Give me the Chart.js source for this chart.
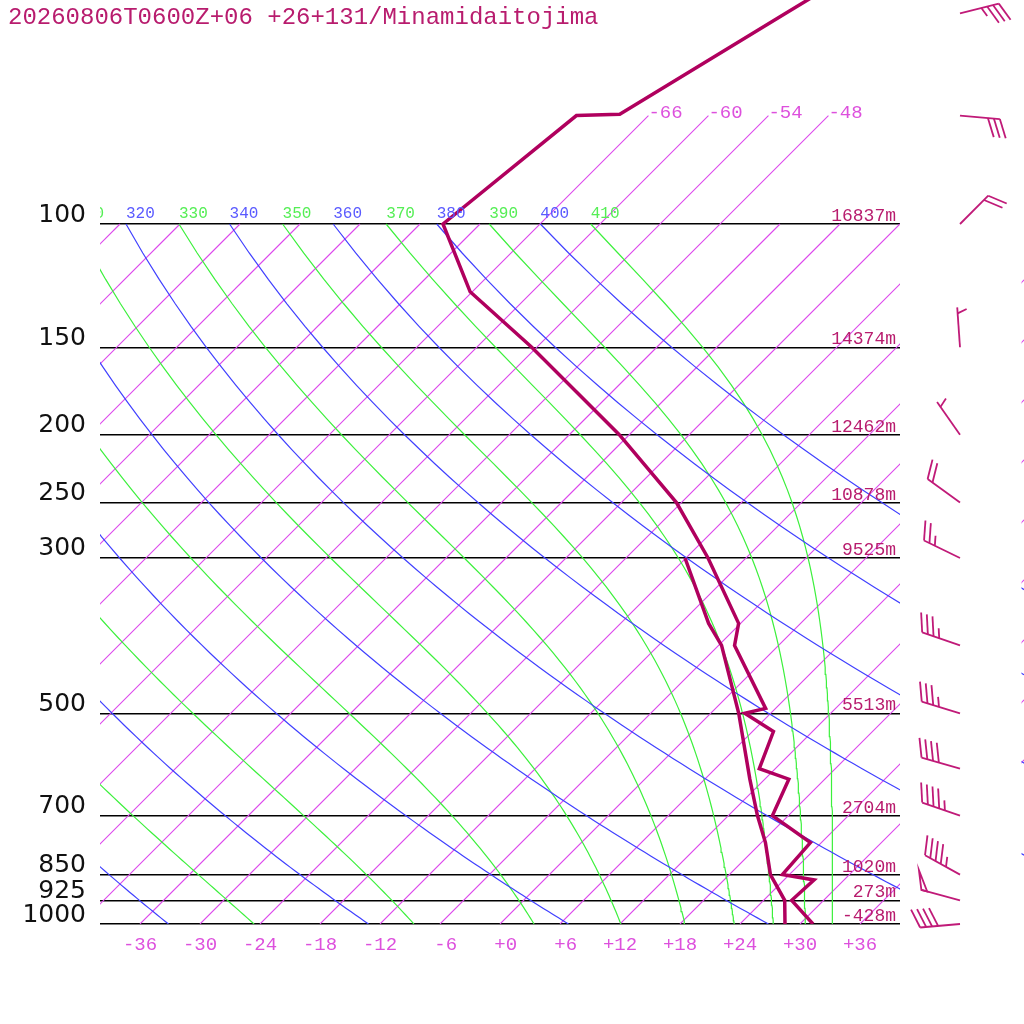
<!DOCTYPE html>
<html>
<head>
<meta charset="utf-8">
<title>Skew-T Minamidaitojima</title>
<script src="https://cdn.jsdelivr.net/npm/chart.js@4.4.1/dist/chart.umd.min.js"></script>
<style>
  html, body { margin: 0; padding: 0; background: #fff; }
  #wrap { position: relative; width: 1024px; height: 1024px; }
</style>
</head>
<body>
<div id="wrap"><canvas id="skewT" width="1024" height="1024"></canvas></div>
<script>
// Sounding: 20260806T0600Z+06, +26+131 Minamidaitojima
const TITLE = '20260806T0600Z+06 +26+131/Minamidaitojima';

// isobars drawn across the diagram, with the height of each one
const PRESSURE_LEVELS = [100, 150, 200, 250, 300, 500, 700, 850, 925, 1000];
const LEVEL_HEIGHTS = ['16837m', '14374m', '12462m', '10878m', '9525m', '5513m', '2704m', '1020m', '273m', '-428m'];

// temperature tick labels along the bottom (degC at 1000 hPa)
const TEMP_TICKS = [-36, -30, -24, -18, -12, -6, 0, 6, 12, 18, 24, 30, 36];

// temperature profile (hPa, degC)
const TEMP_P = [1000, 925, 865, 850, 765, 700, 621, 600, 531, 500, 492, 400, 372, 300, 250, 200, 150, 125, 100, 70, 69.7, 50, 40];
const TEMP_C = [31.3, 26.8, 27.0, 23.3, 22.9, 16.4, 14.4, 10.4, 8.1, 3.4, 5.0, -4.4, -6.2, -15.8, -24.5, -37.0, -54.5, -66.2, -75.7, -73.2, -69.0, -62.5, -58.1];

// dew point profile (hPa, degC)
const DEW_P = [1000, 925, 850, 765, 700, 621, 500, 400, 372, 300];
const DEW_C = [28.5, 26.1, 22.1, 18.4, 14.9, 10.5, 2.8, -5.7, -9.2, -18.1];

// winds (hPa, direction deg, speed kt)
const WIND_P = [50, 70, 100, 150, 200, 250, 300, 400, 500, 600, 700, 850, 925, 1000];
const WIND_DIR = [76, 95, 45, 356, 325, 306, 296, 289, 287, 286, 289, 299, 285, 265];
const WIND_KT = [35, 30, 20, 5, 5, 20, 25, 35, 35, 40, 45, 45, 50, 40];

// background lines
const ISOTHERMS = [-108, -102, -96, -90, -84, -78, -72, -66, -60, -54, -48, -42, -36, -30, -24, -18, -12, -6, 0, 6, 12, 18, 24, 30, 36];
const ISOTHERMS_HIGH = [-66, -60, -54, -48];   // these run on up to 70 hPa and carry a label
const DRY_THETA = [240, 260, 280, 300, 320, 340, 360, 380, 400];
const MOIST_THETAE = [250, 270, 290, 310, 330, 350, 370, 390, 410];

// 45 degree skew: 10 px per degC and 700 px per decade of pressure
const SKEW = 70 / Math.LN10;
const P_TOP = 1000 * Math.exp(-Math.LN10 * 924 / 700);

const COLORS = {
    sounding: '#b0005e',
    text: '#b81c6e',
    barb: '#c01a78',
    isotherm: '#dc48ec',
    isoLabel: '#dd50dd',
    dry: '#4040ff',
    dryLabel: '#5a5aff',
    moist: '#3cf03c',
    moistLabel: '#55ee55'
};

function skewX(t, p) {
    return t + SKEW * Math.log(1000 / p);
}

function esat(tc) {
    return 6.112 * Math.exp(17.67 * tc / (tc + 243.5));
}

// Bolton equivalent potential temperature of saturated air
function thetaESat(tc, p) {
    const tk = tc + 273.15;
    const e = esat(tc);
    const r = 0.622 * e / (p - e);
    const th = tk * Math.pow(1000 / p, 0.2854 * (1 - 0.28 * r));
    return th * Math.exp((3376 / tk - 2.54) * r * (1 + 0.81 * r));
}

// temperature on the pseudo-adiabat thetaE at pressure p
function moistT(thetaE, p) {
    const L = Math.log(0.5 * p / 6.112);
    let lo = -130, hi = 243.5 * L / (17.67 - L);
    for (let i = 0; i < 60; i++) {
        const mid = (lo + hi) / 2;
        if (thetaESat(mid, p) > thetaE) hi = mid; else lo = mid;
    }
    return (lo + hi) / 2;
}

function dryT(theta, p) {
    return theta * Math.pow(p / 1000, 0.2857) - 273.15;
}

const CURVE_P = [];
for (let p = 1000; p >= 100; p -= 10) CURVE_P.push(p);

function lineSet(points, color, width, order) {
    return {
        data: points,
        borderColor: color,
        backgroundColor: color,
        borderWidth: width,
        pointRadius: 0,
        fill: false,
        tension: 0,
        order: order
    };
}

const datasets = [];
datasets.push(lineSet(TEMP_P.map((p, i) => ({ x: skewX(TEMP_C[i], p), y: p })), COLORS.sounding, 3.5, 0));
datasets.push(lineSet(DEW_P.map((p, i) => ({ x: skewX(DEW_C[i], p), y: p })), COLORS.sounding, 3.5, 0));

ISOTHERMS.forEach(t => {
    const top = ISOTHERMS_HIGH.includes(t) ? 70 : 100;
    datasets.push(lineSet([{ x: skewX(t, 1000), y: 1000 }, { x: skewX(t, top), y: top }], COLORS.isotherm, 1.1, 10));
});
DRY_THETA.forEach(th => {
    datasets.push(lineSet(CURVE_P.map(p => ({ x: skewX(dryT(th, p), p), y: p })), COLORS.dry, 1.2, 9));
});
MOIST_THETAE.forEach(te => {
    datasets.push(lineSet(CURVE_P.map(p => ({ x: skewX(moistT(te, p), p), y: p })), COLORS.moist, 1.2, 9));
});

// wind barb: staff points to where the wind comes from
const STAFF = 40, BARB = 20, SPACING = 6, BARB_ANGLE = 68 * Math.PI / 180;

function drawBarb(ctx, x, y, dir, kt) {
    const a = dir * Math.PI / 180;
    const ux = Math.sin(a), uy = -Math.cos(a);
    const tipX = x + ux * STAFF, tipY = y + uy * STAFF;
    const b = Math.atan2(uy, ux) + BARB_ANGLE;
    const bx = Math.cos(b), by = Math.sin(b);
    const at = k => [tipX - ux * k * SPACING, tipY - uy * k * SPACING];

    ctx.beginPath();
    ctx.moveTo(x, y);
    ctx.lineTo(tipX, tipY);
    ctx.stroke();

    let rest = Math.round(kt / 5) * 5;
    let pos = 0;
    while (rest >= 50) {
        const p0 = at(pos), p1 = at(pos + 1);
        ctx.beginPath();
        ctx.moveTo(p0[0], p0[1]);
        ctx.lineTo(p0[0] + bx * BARB, p0[1] + by * BARB);
        ctx.lineTo(p1[0], p1[1]);
        ctx.closePath();
        ctx.stroke();
        pos += 1.5;
        rest -= 50;
    }
    while (rest >= 10) {
        const p0 = at(pos);
        ctx.beginPath();
        ctx.moveTo(p0[0], p0[1]);
        ctx.lineTo(p0[0] + bx * BARB, p0[1] + by * BARB);
        ctx.stroke();
        pos += 1;
        rest -= 10;
    }
    if (rest >= 5) {
        if (pos === 0) pos = 1;
        const p0 = at(pos);
        ctx.beginPath();
        ctx.moveTo(p0[0], p0[1]);
        ctx.lineTo(p0[0] + bx * BARB / 2, p0[1] + by * BARB / 2);
        ctx.stroke();
    }
}

// stroke the background datasets again inside a clip box (the thin strip at the right edge)
function strokeBackground(chart, left, top, right, bottom) {
    const ctx = chart.ctx;
    ctx.save();
    ctx.beginPath();
    ctx.rect(left, top, right - left, bottom - top);
    ctx.clip();
    chart.data.datasets.forEach((ds, i) => {
        if (ds.order === 0) return;
        const pts = chart.getDatasetMeta(i).data;
        ctx.strokeStyle = ds.borderColor;
        ctx.lineWidth = ds.borderWidth;
        ctx.beginPath();
        pts.forEach((pt, k) => (k ? ctx.lineTo(pt.x, pt.y) : ctx.moveTo(pt.x, pt.y)));
        ctx.stroke();
    });
    ctx.restore();
}

const overlayPlugin = {
    id: 'overlay',
    afterDraw(chart) {
        const { ctx, chartArea: area, scales: { x, y } } = chart;
        const px = (t, p) => x.getPixelForValue(skewX(t, p));
        const py = p => y.getPixelForValue(p);

        strokeBackground(chart, 1021.5, py(100), chart.width, py(1000));

        ctx.save();
        ctx.textBaseline = 'alphabetic';

        // title
        ctx.font = '24px "Liberation Mono", monospace';
        ctx.fillStyle = COLORS.text;
        ctx.textAlign = 'left';
        ctx.fillText(TITLE, 8, 24);

        // isobar heights
        ctx.font = '18px "Liberation Mono", monospace';
        ctx.textAlign = 'right';
        PRESSURE_LEVELS.forEach((p, i) => {
            ctx.fillText(LEVEL_HEIGHTS[i], area.right - 4, py(p) - 3);
        });

        // isotherm labels at the top end of the long isotherms
        ctx.font = '19px "Liberation Mono", monospace';
        ctx.fillStyle = COLORS.isoLabel;
        ctx.textAlign = 'left';
        ISOTHERMS_HIGH.forEach(t => {
            ctx.fillText(String(t), px(t, 70), py(70) + 2);
        });

        // adiabat labels on the 100 hPa line, clipped to the diagram
        ctx.save();
        ctx.beginPath();
        ctx.rect(area.left, 0, area.right - area.left, area.bottom);
        ctx.clip();
        ctx.font = '16px "Liberation Mono", monospace';
        DRY_THETA.forEach(th => {
            ctx.fillStyle = COLORS.dryLabel;
            ctx.fillText(String(th), px(dryT(th, 100), 100), py(100) - 6);
        });
        MOIST_THETAE.forEach(te => {
            ctx.fillStyle = COLORS.moistLabel;
            ctx.fillText(String(te), px(moistT(te, 100), 100), py(100) - 6);
        });
        ctx.restore();

        // wind barbs to the right of the diagram
        ctx.strokeStyle = COLORS.barb;
        ctx.lineWidth = 1.8;
        ctx.lineJoin = 'miter';
        WIND_P.forEach((p, i) => {
            drawBarb(ctx, area.right + 60, py(p), WIND_DIR[i], WIND_KT[i]);
        });
        ctx.restore();
    }
};

new Chart(document.getElementById('skewT'), {
    type: 'line',
    data: { datasets: datasets },
    options: {
        responsive: false,
        animation: false,
        layout: { padding: { left: 0, right: 124, top: 0, bottom: 0 } },
        plugins: {
            legend: { display: false },
            tooltip: { enabled: false }
        },
        scales: {
            x: {
                type: 'linear',
                min: -40,
                max: 40,
                afterBuildTicks: s => { s.ticks = TEMP_TICKS.map(v => ({ value: v })); },
                afterFit: s => { s.height = 100; s.paddingLeft = 0; s.paddingRight = 0; },
                grid: { display: false },
                border: { display: false },
                ticks: {
                    autoSkip: false,
                    maxRotation: 0,
                    padding: 2,
                    color: COLORS.isoLabel,
                    font: { family: '"Liberation Mono", monospace', size: 19 },
                    callback: v => (' ' + (v < 0 ? '-' : '+') + Math.abs(v)).slice(-3)
                }
            },
            y: {
                type: 'logarithmic',
                reverse: true,
                min: P_TOP,
                max: 1000,
                afterBuildTicks: s => { s.ticks = PRESSURE_LEVELS.map(v => ({ value: v })); },
                afterFit: s => { s.width = 100; s.paddingTop = 0; s.paddingBottom = 0; },
                grid: { color: '#000', lineWidth: 1.5, drawTicks: false },
                border: { display: false },
                ticks: {
                    padding: 14,
                    labelOffset: -9,
                    color: '#111',
                    font: { family: '"DejaVu Sans", sans-serif', size: 25 },
                    callback: v => String(v)
                }
            }
        }
    },
    plugins: [overlayPlugin]
});
</script>
</body>
</html>
